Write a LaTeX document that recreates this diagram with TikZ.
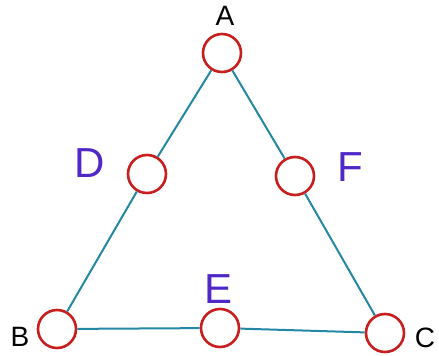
\documentclass[tikz,border=0pt]{standalone}
\usepackage{fontspec}
\setmainfont{Liberation Sans}
\usepackage{xcolor}
\usetikzlibrary{positioning}

\definecolor{ringred}{RGB}{200,30,30}
\definecolor{edgeteal}{RGB}{35,135,165}
\definecolor{penblue}{RGB}{80,40,200}

\tikzset{
    vertex/.style={circle, draw=ringred, fill=white, line width=2.6pt, minimum size=38pt, inner sep=0pt},
    edge/.style={edgeteal, line width=2pt},
    corner/.style={font=\fontsize{28}{32}\selectfont, text=black},
    handmark/.style={font=\fontsize{42}{46}\selectfont, text=penblue}
}

\begin{document}
\begin{tikzpicture}[x=1pt, y=-1pt]
    \useasboundingbox (0,0) rectangle (439,356);

    % Vertices
    \node[vertex] (A) at (222,53) {};
    \node[vertex] (D) at (147,174) {};
    \node[vertex] (F) at (295,176) {};
    \node[vertex] (B) at (57,329) {};
    \node[vertex] (E) at (220,328) {};
    \node[vertex] (C) at (385,333) {};

    % Edges
    \draw[edge] (A) -- (D);
    \draw[edge] (D) -- (B);
    \draw[edge] (A) -- (F);
    \draw[edge] (F) -- (C);
    \draw[edge] (B) -- (E);
    \draw[edge] (E) -- (C);

    % Labels
    \node[corner] (labA) at (225,16) {A};
    \node[corner] (labB) at (20,337) {B};
    \node[corner] (labC) at (425,338) {C};
    \node[handmark] (labD) at (90,163) {D};
    \node[handmark] (labE) at (219,289) {E};
    \node[handmark] (labF) at (350,167) {F};
\end{tikzpicture}
\end{document}
